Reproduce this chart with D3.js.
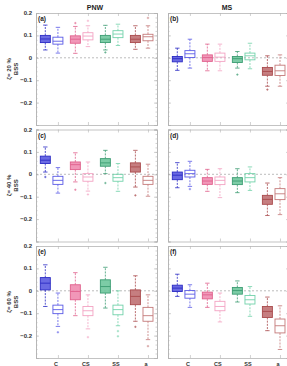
<!DOCTYPE html>
<html>
<head>
<meta charset="utf-8">
<script src="https://cdn.jsdelivr.net/npm/d3@7"></script>
<style>
  body { margin:0; background:#fff; }
  text { font-family: "Liberation Sans", Arial, sans-serif; }
</style>
</head>
<body>
<div id="chart-area"></div>
<script>
// Column / row labels
var regions = ["PNW", "MS"];
var zetas = ["20", "40", "60"];
var panelLetters = ["(a)", "(b)", "(c)", "(d)", "(e)", "(f)"];
var groupLabels = ["C", "CS", "SS", "a"];
var yTicks = [0.2, 0.1, 0, -0.1, -0.2];

// box stats: [low whisker, q1, median, q3, high whisker]
// order: blue filled, blue open, pink filled, pink open, green filled, green open, brown filled, brown open
var statsA = [
  [0.035, 0.068, 0.084, 0.100, 0.146], [0.021, 0.061, 0.074, 0.092, 0.136],
  [0.020, 0.065, 0.083, 0.098, 0.140], [0.050, 0.080, 0.097, 0.112, 0.143],
  [0.035, 0.068, 0.083, 0.100, 0.145], [0.055, 0.090, 0.106, 0.121, 0.150],
  [0.038, 0.068, 0.083, 0.100, 0.143], [0.043, 0.076, 0.094, 0.105, 0.143]
];
var statsB = [
  [-0.056, -0.018, -0.004, 0.006, 0.043], [-0.046, 0.001, 0.018, 0.032, 0.083],
  [-0.058, -0.016, 0.001, 0.013, 0.061], [-0.058, -0.016, 0.003, 0.021, 0.061],
  [-0.046, -0.021, -0.004, 0.006, 0.028], [-0.049, -0.009, 0.009, 0.021, 0.065],
  [-0.127, -0.078, -0.061, -0.043, 0.009], [-0.127, -0.079, -0.058, -0.033, 0.013]
];
var statsC = [
  [0.010, 0.048, 0.063, 0.081, 0.122], [-0.084, -0.045, -0.027, -0.009, 0.030],
  [-0.034, 0.021, 0.043, 0.055, 0.096], [-0.075, -0.031, -0.012, 0.003, 0.055],
  [0.003, 0.036, 0.051, 0.070, 0.107], [-0.076, -0.031, -0.015, 0.000, 0.048],
  [-0.057, 0.010, 0.033, 0.051, 0.107], [-0.098, -0.045, -0.027, -0.009, 0.045]
];
var statsD = [
  [-0.060, -0.024, -0.004, 0.010, 0.052], [-0.054, -0.012, 0.003, 0.018, 0.058],
  [-0.076, -0.045, -0.030, -0.015, 0.022], [-0.104, -0.046, -0.027, -0.012, 0.025],
  [-0.082, -0.046, -0.030, -0.015, 0.025], [-0.072, -0.034, -0.015, 0.003, 0.033],
  [-0.184, -0.134, -0.112, -0.094, -0.039], [-0.180, -0.113, -0.087, -0.064, -0.015]
];
var statsE = [
  [-0.070, 0.004, 0.034, 0.059, 0.116], [-0.159, -0.102, -0.084, -0.064, -0.010],
  [-0.111, -0.040, -0.003, 0.027, 0.081], [-0.170, -0.111, -0.089, -0.070, -0.018],
  [-0.077, -0.010, 0.019, 0.049, 0.105], [-0.156, -0.107, -0.084, -0.064, 0.000],
  [-0.136, -0.062, -0.025, 0.004, 0.067], [-0.218, -0.136, -0.111, -0.074, -0.018]
];
var statsF = [
  [-0.025, -0.003, 0.012, 0.025, 0.074], [-0.074, -0.033, -0.015, 0.001, 0.027],
  [-0.074, -0.036, -0.018, -0.006, 0.034], [-0.139, -0.089, -0.070, -0.047, -0.010],
  [-0.050, -0.015, 0.001, 0.015, 0.044], [-0.114, -0.059, -0.040, -0.021, 0.019],
  [-0.178, -0.119, -0.092, -0.070, -0.028], [-0.262, -0.188, -0.156, -0.126, -0.067]
];

// outliers: [box index, value]
var outA = [[2, 0.155], [3, 0.165], [4, 0.024], [7, 0.178]];
var outB = [[4, -0.075], [6, -0.142]];
var outC = [[0, -0.012], [2, -0.069], [3, -0.090], [4, -0.039], [6, -0.094]];
var outD = [[1, -0.066]];
var outE = [[1, -0.185], [3, -0.207], [5, -0.180], [5, -0.203], [6, -0.161], [7, -0.247]];
var outF = [];

var allStats = [statsA, statsB, statsC, statsD, statsE, statsF];
var allOut = [outA, outB, outC, outD, outE, outF];

// colours per box
var strokeCol = ["#2b2bc4", "#5b5be6", "#e0608c", "#f3a3c3", "#3c9c72", "#72d2aa", "#a94a4c", "#c47a7a"];
var fillCol   = ["#5a5ae0", "none", "#f08cb0", "none", "#6ec69c", "none", "#c07072", "none"];

// layout
var width = 287, height = 366;
var panelW = 121, panelH = 112;
var colX = [36, 168];
var rowY = [13, 129.5, 246];

var svg = d3.select("#chart-area").append("svg")
    .attr("width", width)
    .attr("height", height);

svg.append("rect").attr("width", width).attr("height", height).attr("fill", "#fff");

var x = d3.scaleLinear().domain([0.27, 4.3]).range([0, panelW]);
var y = d3.scaleLinear().domain([-0.3, 0.2]).range([panelH, 0]);
var boxW = 10;
var offF = -0.42;

// column titles
regions.forEach(function(r, c) {
  svg.append("text")
    .attr("x", colX[c] + 59)
    .attr("y", 10)
    .attr("text-anchor", "middle")
    .attr("font-size", "7px")
    .attr("font-weight", "bold")
    .attr("fill", "#222")
    .text(r);
});

// row labels
zetas.forEach(function(z, r) {
  var cy = rowY[r] + panelH / 2;
  svg.append("text")
    .attr("transform", "translate(11," + cy + ") rotate(-90)")
    .attr("text-anchor", "middle")
    .attr("font-size", "6px")
    .attr("font-weight", "bold")
    .attr("fill", "#333")
    .text("\u03b6= " + z + " %");
  svg.append("text")
    .attr("transform", "translate(17.5," + cy + ") rotate(-90)")
    .attr("text-anchor", "middle")
    .attr("font-size", "6px")
    .attr("font-weight", "bold")
    .attr("fill", "#333")
    .text("BSS");
});

var axisCol = "#b4b4b4";

for (var p = 0; p < 6; p++) {
  var c = p % 2, r = Math.floor(p / 2);
  var g = svg.append("g")
    .attr("transform", "translate(" + colX[c] + "," + rowY[r] + ")");

  // axes box with inward ticks
  var yL = d3.axisRight(y).tickValues(yTicks).tickSize(3).tickFormat("");
  var yR = d3.axisLeft(y).tickValues(yTicks).tickSize(3).tickFormat("");
  var minor = d3.range(-0.3, 0.2001, 0.02);
  var yLm = d3.axisRight(y).tickValues(minor).tickSize(1.5).tickFormat("");
  var yRm = d3.axisLeft(y).tickValues(minor).tickSize(1.5).tickFormat("");
  var xT = d3.axisBottom(x).tickValues([1, 2, 3, 4]).tickSize(3).tickFormat("");
  var xB = d3.axisTop(x).tickValues([1, 2, 3, 4]).tickSize(3).tickFormat("");

  g.append("g").call(yL);
  g.append("g").call(yLm);
  g.append("g").attr("transform", "translate(" + panelW + ",0)").call(yR);
  g.append("g").attr("transform", "translate(" + panelW + ",0)").call(yRm);
  g.append("g").call(xT);
  g.append("g").attr("transform", "translate(0," + panelH + ")").call(xB);
  g.selectAll(".domain").attr("stroke", axisCol).attr("stroke-width", 0.8);
  g.selectAll(".tick line").attr("stroke", axisCol).attr("stroke-width", 0.6);

  // y tick labels, left column only
  if (c == 0) {
    g.selectAll(".ylab").data(yTicks).enter().append("text")
      .attr("x", -4)
      .attr("y", function(d) { return y(d) + 2; })
      .attr("text-anchor", "end")
      .attr("font-size", "6px")
      .attr("font-weight", "bold")
      .attr("fill", "#333")
      .text(function(d) { return d == 0 ? "0" : d3.format(".1f")(d); });
  }

  // zero line
  g.append("line")
    .attr("x1", 0).attr("x2", panelW)
    .attr("y1", y(0)).attr("y2", y(0))
    .attr("stroke", "#a0a0a0")
    .attr("stroke-width", 0.7)
    .attr("stroke-dasharray", "2,2");

  // panel letter
  g.append("text")
    .attr("x", 2)
    .attr("y", 8)
    .attr("font-size", "6.5px")
    .attr("font-weight", "bold")
    .attr("fill", "#222")
    .text(panelLetters[p]);

  // boxes
  var stats = allStats[p];
  stats.forEach(function(s, i) {
    var pos = Math.floor(i / 2) + 1 + (i % 2 == 0 ? offF : 0);
    var cx = x(pos);
    var col = strokeCol[i];
    var bg = g.append("g");
    // whiskers
    bg.append("line").attr("x1", cx).attr("x2", cx).attr("y1", y(s[3])).attr("y2", y(s[4]))
      .attr("stroke", col).attr("stroke-width", 0.8).attr("stroke-dasharray", "2,1.2");
    bg.append("line").attr("x1", cx).attr("x2", cx).attr("y1", y(s[1])).attr("y2", y(s[0]))
      .attr("stroke", col).attr("stroke-width", 0.8).attr("stroke-dasharray", "2,1.2");
    bg.append("line").attr("x1", cx - 2.2).attr("x2", cx + 2.2).attr("y1", y(s[4])).attr("y2", y(s[4]))
      .attr("stroke", col).attr("stroke-width", 0.8);
    bg.append("line").attr("x1", cx - 2.2).attr("x2", cx + 2.2).attr("y1", y(s[0])).attr("y2", y(s[0]))
      .attr("stroke", col).attr("stroke-width", 0.8);
    // box
    bg.append("rect")
      .attr("x", cx - boxW / 2)
      .attr("y", y(s[3]))
      .attr("width", boxW)
      .attr("height", y(s[1]) - y(s[3]))
      .attr("fill", fillCol[i] == "none" ? "#fff" : fillCol[i])
      .attr("fill-opacity", fillCol[i] == "none" ? 0 : 0.9)
      .attr("stroke", col)
      .attr("stroke-width", 0.9);
    // median
    bg.append("line").attr("x1", cx - boxW / 2).attr("x2", cx + boxW / 2)
      .attr("y1", y(s[2])).attr("y2", y(s[2]))
      .attr("stroke", col).attr("stroke-width", 0.9);
  });

  // outliers as small plus marks
  allOut[p].forEach(function(o) {
    var i = o[0];
    var pos = Math.floor(i / 2) + 1 + (i % 2 == 0 ? offF : 0);
    var cx = x(pos), cy = y(o[1]);
    g.append("path")
      .attr("d", "M" + (cx - 1.2) + "," + cy + "H" + (cx + 1.2) + "M" + cx + "," + (cy - 1.2) + "V" + (cy + 1.2))
      .attr("stroke", strokeCol[i])
      .attr("stroke-width", 0.6);
  });

  // bottom tick labels on the last row, squeezed above the page edge
  if (r == 2) {
    g.selectAll(".xlab").data(groupLabels).enter().append("text")
      .attr("x", function(d, i) { return x(i + 1) - 2; })
      .attr("y", panelH + 7.5)
      .attr("text-anchor", "middle")
      .attr("font-size", "5.5px")
      .attr("font-weight", "bold")
      .attr("fill", "#333")
      .text(function(d) { return d; });
  }
}
</script>
</body>
</html>
